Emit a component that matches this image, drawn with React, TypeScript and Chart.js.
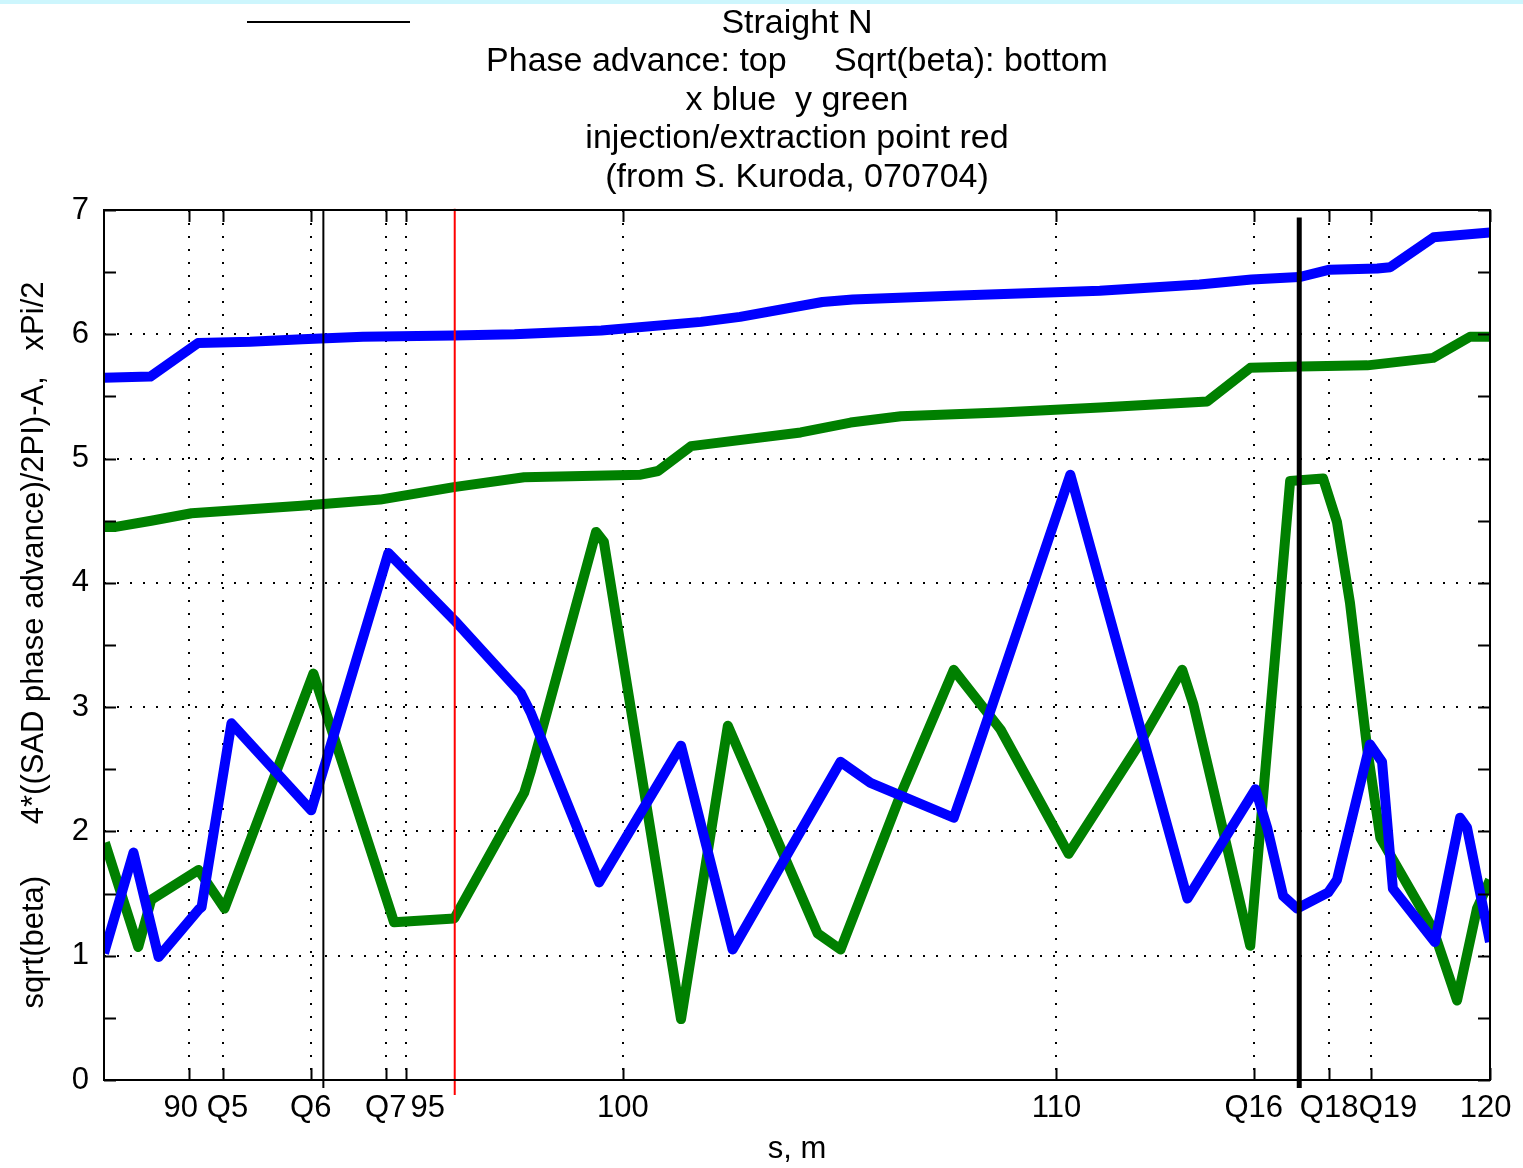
import React, { useEffect, useRef } from 'react';
import { Chart, registerables } from 'chart.js';

Chart.register(...registerables);

const FONT = '"Liberation Sans", Arial, sans-serif';

const titleLines = [
  'Straight N',
  'Phase advance: top     Sqrt(beta): bottom',
  'x blue  y green',
  'injection/extraction point red',
  '(from S. Kuroda, 070704)',
];
const xAxisTitle = 's, m';
const yAxisTitle = 'sqrt(beta)      4*((SAD phase advance)/2PI)-A,   xPi/2';

const xMin = 88.03;
const xMax = 120;
const yMin = 0;
const yMax = 7;

const xTickValues = [90, 90.78, 92.8, 94.53, 95, 100, 110, 114.55, 116.29, 117.25, 120];
// labels as printed (the original nudges a few of them sideways, kept with spaces)
const xTickLabels = ['90  ', ' Q5', 'Q6', 'Q7', '     95', '100', '110', 'Q16', 'Q18', '    Q19', '120 '];

// vertical markers
const markerQ6 = 93.09;
const markerInjection = 96.12;
const markerQ17 = 115.6;

// phase advance (top), x = blue
const bluePhaseS = [88.03, 89.1, 90.2, 91.4, 92.6, 94.0, 96.1, 97.5, 99.5, 101.8, 102.7, 104.6, 105.3, 107.6, 111.0, 113.3, 114.5, 115.6, 116.3, 117.4, 117.7, 118.7, 120];
const bluePhase = [5.65, 5.66, 5.93, 5.94, 5.96, 5.98, 5.99, 6.0, 6.03, 6.1, 6.14, 6.26, 6.28, 6.31, 6.35, 6.4, 6.44, 6.46, 6.52, 6.53, 6.54, 6.78, 6.82];

// phase advance (top), y = green
const greenPhaseS = [88.03, 88.3, 89.12, 90.05, 92.58, 94.4, 96.1, 97.72, 100.41, 100.81, 101.57, 104.1, 105.25, 106.41, 108.71, 111.01, 113.48, 114.47, 115.62, 117.17, 118.69, 119.54, 120];
const greenPhase = [4.45, 4.45, 4.5, 4.56, 4.62, 4.67, 4.77, 4.85, 4.87, 4.9, 5.1, 5.21, 5.29, 5.34, 5.37, 5.41, 5.46, 5.73, 5.74, 5.75, 5.81, 5.98, 5.98];

// sqrt(beta) (bottom), x = blue
const blueBetaS = [88.03, 88.71, 89.29, 90.21, 90.28, 90.97, 92.81, 94.59, 96.11, 97.65, 97.88, 99.45, 101.34, 102.53, 105.02, 105.71, 107.63, 107.95, 110.32, 113.02, 114.59, 114.86, 115.23, 115.55, 116.27, 116.47, 117.23, 117.51, 117.76, 118.73, 119.31, 119.47, 120];
const blueBeta = [1.02, 1.83, 0.99, 1.37, 1.39, 2.87, 2.17, 4.24, 3.7, 3.11, 2.95, 1.59, 2.69, 1.05, 2.56, 2.39, 2.11, 2.43, 4.87, 1.46, 2.34, 2.03, 1.48, 1.38, 1.51, 1.61, 2.7, 2.56, 1.54, 1.11, 2.11, 2.03, 1.11];

// sqrt(beta) (bottom), y = green
const greenBetaS = [88.05, 88.82, 89.12, 90.21, 90.81, 92.86, 94.72, 96.11, 97.72, 97.88, 99.38, 99.56, 101.34, 102.42, 104.49, 105.02, 106.41, 107.63, 108.71, 110.28, 111.94, 112.9, 113.16, 114.47, 115.39, 116.15, 116.47, 116.77, 117.17, 117.47, 118.69, 119.24, 119.7, 120];
const greenBeta = [1.91, 1.07, 1.45, 1.69, 1.38, 3.27, 1.27, 1.3, 2.31, 2.49, 4.41, 4.33, 0.49, 2.85, 1.18, 1.05, 2.3, 3.3, 2.82, 1.82, 2.72, 3.3, 3.02, 1.08, 4.82, 4.84, 4.49, 3.84, 2.66, 1.95, 1.21, 0.64, 1.38, 1.61];

const BLUE = '#0000ff';
const GREEN = '#008000';

const toPoints = (xs: number[], ys: number[]) => xs.map((x, i) => ({ x, y: ys[i] }));

const framePlugin = {
  id: 'frameTicks',
  beforeDraw(chart: any) {
    const { ctx, width, height } = chart;
    ctx.save();
    ctx.fillStyle = '#ffffff';
    ctx.fillRect(0, 0, width, height);
    ctx.fillStyle = '#cdf6fd';
    ctx.fillRect(0, 0, width, 4);
    ctx.restore();
  },
  afterDraw(chart: any) {
    const { ctx, chartArea: a, scales } = chart;
    const xs = scales.x;
    const ys = scales.y;
    ctx.save();
    ctx.strokeStyle = '#000';
    ctx.lineWidth = 2;
    ctx.strokeRect(a.left, a.top, a.right - a.left, a.bottom - a.top);
    const L = 12;
    ctx.beginPath();
    for (const v of xTickValues) {
      const px = Math.round(xs.getPixelForValue(v)) + 0.5;
      ctx.moveTo(px, a.bottom);
      ctx.lineTo(px, a.bottom - L);
      ctx.moveTo(px, a.top);
      ctx.lineTo(px, a.top + L);
    }
    for (let v = yMin; v <= yMax; v += 0.5) {
      const py = Math.round(ys.getPixelForValue(v)) + 0.5;
      ctx.moveTo(a.left, py);
      ctx.lineTo(a.left + L, py);
      ctx.moveTo(a.right, py);
      ctx.lineTo(a.right - L, py);
    }
    ctx.stroke();
    // legend sample line (empty label)
    ctx.beginPath();
    ctx.moveTo(a.left + 143, 22);
    ctx.lineTo(a.left + 306, 22);
    ctx.stroke();
    ctx.restore();
  },
};

export default function App() {
  const ref = useRef<HTMLCanvasElement | null>(null);

  useEffect(() => {
    document.body.style.margin = '0';
    document.body.style.overflow = 'hidden';
    const canvas = ref.current;
    if (!canvas) return;
    const curve = (label: string, xs: number[], ys: number[], color: string) => ({
      label,
      data: toPoints(xs, ys),
      borderColor: color,
      borderWidth: 10,
      pointRadius: 0,
      tension: 0,
      borderJoinStyle: 'round',
    });
    const chart = new Chart(canvas, {
      type: 'line',
      data: {
        datasets: [
          {
            label: 'Q6',
            data: [{ x: markerQ6, y: -0.065 }, { x: markerQ6, y: 7 }],
            borderColor: '#000000',
            borderWidth: 2,
            pointRadius: 0,
            clip: false as any,
          },
          {
            label: 'injection/extraction point',
            data: [{ x: markerInjection, y: -0.12 }, { x: markerInjection, y: 7.01 }],
            borderColor: '#ff0000',
            borderWidth: 2,
            pointRadius: 0,
            clip: false as any,
          },
          {
            label: 'Q17',
            data: [{ x: markerQ17, y: -0.065 }, { x: markerQ17, y: 6.94 }],
            borderColor: '#000000',
            borderWidth: 5,
            pointRadius: 0,
            clip: false as any,
          },
          curve('x phase advance', bluePhaseS, bluePhase, BLUE),
          curve('x sqrt(beta)', blueBetaS, blueBeta, BLUE),
          curve('y phase advance', greenPhaseS, greenPhase, GREEN),
          curve('y sqrt(beta)', greenBetaS, greenBeta, GREEN),
        ],
      },
      options: {
        responsive: false,
        animation: false,
        devicePixelRatio: 1,
        layout: { padding: { left: 0, right: 33, top: 0, bottom: 0 } },
        plugins: {
          legend: { display: false },
          tooltip: { enabled: false },
          title: {
            display: true,
            text: titleLines,
            fullSize: false,
            color: '#000',
            font: { family: FONT, size: 34, weight: 'normal', lineHeight: 38.5 / 34 },
            padding: { top: 4, bottom: 13.5 },
          },
        },
        scales: {
          x: {
            type: 'linear',
            min: xMin,
            max: xMax,
            afterBuildTicks: (s: any) => {
              s.ticks = xTickValues.map((v) => ({ value: v }));
            },
            afterFit: (s: any) => {
              s.height = 88;
              s.paddingLeft = 0;
              s.paddingRight = 0;
            },
            ticks: {
              autoSkip: false,
              maxRotation: 0,
              minRotation: 0,
              padding: 10,
              color: '#000',
              font: { family: FONT, size: 31 },
              callback: (_v: any, i: number) => xTickLabels[i],
            },
            grid: { color: '#000', lineWidth: 2, drawTicks: false },
            border: { display: false, dash: [2, 11] },
            title: {
              display: true,
              text: xAxisTitle,
              color: '#000',
              font: { family: FONT, size: 31 },
              padding: { top: 0, bottom: 0 },
            },
          },
          y: {
            min: yMin,
            max: yMax,
            afterFit: (s: any) => {
              s.width = 104;
              s.paddingTop = 0;
              s.paddingBottom = 0;
            },
            ticks: {
              stepSize: 1,
              padding: 15,
              color: '#000',
              font: { family: FONT, size: 31 },
            },
            grid: { color: '#000', lineWidth: 2, drawTicks: false },
            border: { display: false, dash: [2, 11] },
            title: {
              display: true,
              text: yAxisTitle,
              color: '#000',
              font: { family: FONT, size: 31 },
              padding: { top: 16, bottom: 0 },
            },
          },
        },
      },
      plugins: [framePlugin],
    } as any);
    return () => chart.destroy();
  }, []);

  return (
    <div style={{ width: 1523, height: 1168 }}>
      <canvas ref={ref} width={1523} height={1168} style={{ display: 'block' }} />
    </div>
  );
}
